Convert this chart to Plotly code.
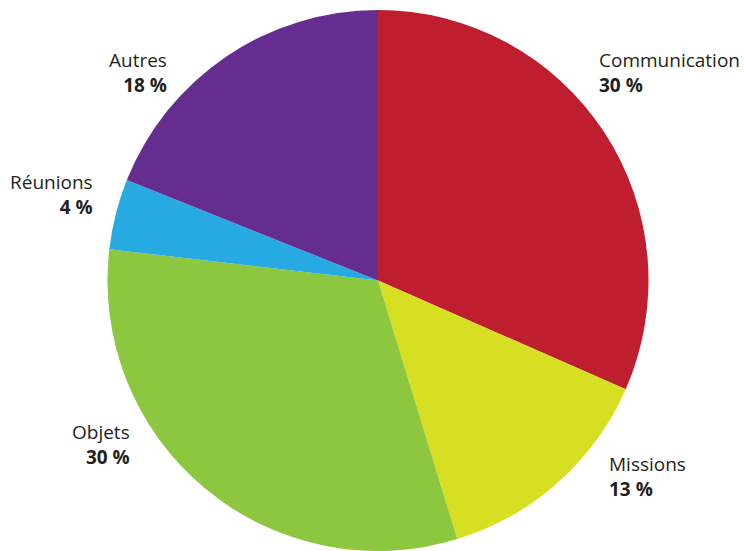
import plotly.graph_objects as go

# Budget split by category (percent)
categories = ["Communication", "Missions", "Objets", "Réunions", "Autres"]
values = [30, 13, 30, 4, 18]
colors = ["#BE1E2D", "#D7DF23", "#8DC63F", "#27AAE1", "#662D91"]

W, H = 744, 551
ML, MR, MT, MB = 12, 0, 10, 0

# Label anchor points in pixels (x, y-centre, horizontal anchor)
label_pos = {
    "Communication": (597, 72, "left"),
    "Missions": (607, 476, "left"),
    "Objets": (132, 444, "right"),
    "Réunions": (95, 194, "right"),
    "Autres": (169, 72, "right"),
}

fig = go.Figure(
    go.Pie(
        labels=categories,
        values=values,
        marker=dict(colors=colors, line=dict(width=0)),
        sort=False,
        direction="clockwise",
        rotation=0,
        textinfo="none",
        hoverinfo="skip",
        showlegend=False,
    )
)

pw, ph = W - ML - MR, H - MT - MB
for cat, val in zip(categories, values):
    px, py, anchor = label_pos[cat]
    fig.add_annotation(
        x=(px - ML) / pw,
        y=1 - (py - MT) / ph,
        xref="paper",
        yref="paper",
        xanchor=anchor,
        yanchor="middle",
        align=anchor,
        showarrow=False,
        text=f"{cat}<br><b>{val} %</b>",
        font=dict(family="Open Sans", size=19, color="#231F20"),
    )

fig.update_layout(
    width=W,
    height=H,
    margin=dict(l=ML, r=MR, t=MT, b=MB),
    paper_bgcolor="white",
    plot_bgcolor="white",
)

fig.write_html("out.html")
